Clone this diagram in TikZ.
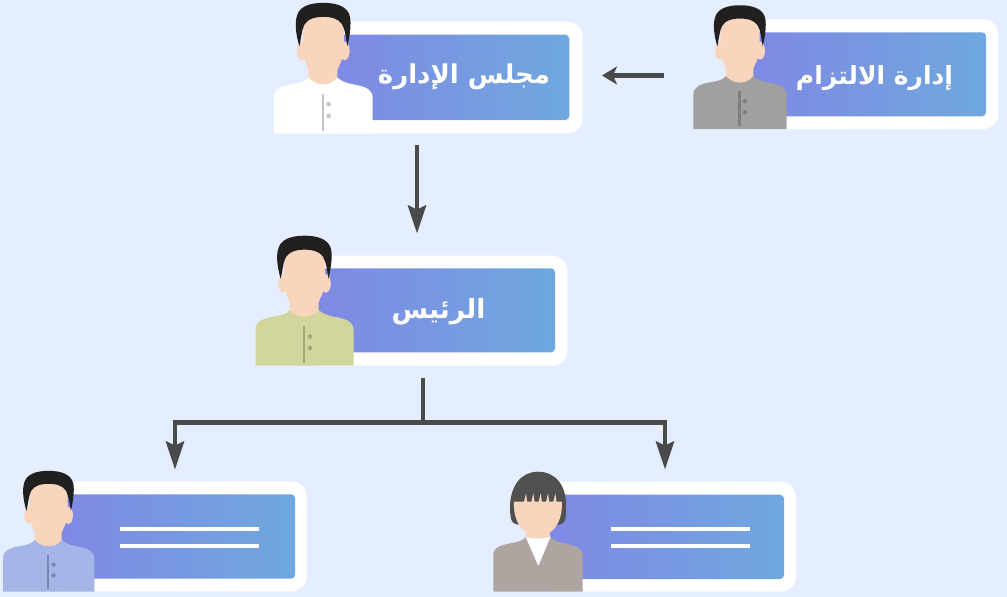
\documentclass[tikz,border=0pt]{standalone}
\usepackage{fontspec}
\usetikzlibrary{arrows.meta,calc}
\newfontfamily\arabicfont[Script=Arabic]{DejaVu Sans}
\TeXXeTstate=1
\definecolor{pagebg}{HTML}{E4EEFE}
\definecolor{cardleft}{HTML}{8088E4}
\definecolor{cardright}{HTML}{6FA8DE}
\definecolor{linkc}{HTML}{4A4A4A}
\definecolor{skin}{HTML}{FAD5BD}
\definecolor{hairc}{HTML}{221F1F}
\definecolor{shirtgrey}{HTML}{A0A0A0}
\definecolor{seamgrey}{HTML}{7F7F7F}
\definecolor{seamwhite}{HTML}{C8C5C2}
\definecolor{shirtgreen}{HTML}{D3D69C}
\definecolor{seamgreen}{HTML}{A3A57A}
\definecolor{shirtblue}{HTML}{A4B5E8}
\definecolor{seamblue}{HTML}{7C86AC}
\definecolor{jacket}{HTML}{AFA5A0}
\definecolor{womanhair}{HTML}{505050}
\tikzset{
  innercard/.style={left color=cardleft,right color=cardright,draw=none,rounded corners=4pt},
  outercard/.style={fill=white,rounded corners=15pt},
  linkline/.style={draw=linkc,line width=4.5pt},
  linkarrow/.style={linkline,-{Stealth[length=#1,width=18pt,inset=4pt]}},
  cardtext/.style={text=white,inner sep=0pt,font=\arabicfont\bfseries\fontsize{#1}{30}\selectfont},
  blankline/.style={draw=white,line width=3.8pt}
}
% #1 left x, #2 bottom y, #3 scale, #4 shirt, #5 seam/button colour
\newcommand{\manfigure}[5]{%
\begin{scope}[shift={(#1,#2)},scale=#3/3]
  \fill[skin] (84,-248) circle[x radius=15,y radius=28];
  \fill[skin] (212,-248) circle[x radius=15,y radius=28];
  \fill[skin] (103,-240) -- (103,-150) .. controls (125,-130) and (170,-130) .. (190,-150) -- (190,-240) -- cycle;
  \fill[#4] (0,0) -- (0,-112) .. controls (2,-135) and (25,-143) .. (55,-148)
     .. controls (78,-152) and (95,-155) .. (103,-168)
     .. controls (125,-140) and (172,-140) .. (190,-168)
     .. controls (205,-153) and (225,-150) .. (250,-145)
     .. controls (280,-138) and (296,-130) .. (296,-105) -- (296,0) -- cycle;
  \fill[skin] (86,-300) .. controls (86,-345) and (115,-358) .. (148,-358)
     .. controls (181,-358) and (210,-345) .. (210,-300)
     .. controls (210,-255) and (208,-225) .. (196,-205) -- (190,-190) -- (103,-190) -- (98,-205)
     .. controls (88,-225) and (86,-255) .. (86,-300) -- cycle;
  \fill[hairc] (76,-262) .. controls (66,-295) and (62,-330) .. (68,-350)
     .. controls (74,-380) and (105,-392) .. (148,-392)
     .. controls (190,-392) and (222,-380) .. (228,-350)
     .. controls (232,-330) and (228,-295) .. (220,-262)
     .. controls (216,-285) and (214,-310) .. (204,-328)
     .. controls (192,-346) and (170,-350) .. (148,-350)
     .. controls (126,-350) and (104,-346) .. (92,-328)
     .. controls (82,-310) and (82,-285) .. (76,-262) -- cycle;
  \fill[#5] (143,-8) rectangle (150,-120);
  \fill[#5] (164,-88) circle[radius=7];
  \fill[#5] (164,-53) circle[radius=7];
\end{scope}}
% #1 left x, #2 bottom y
\newcommand{\womanfigure}[2]{%
\begin{scope}[shift={(#1,#2)},scale=1/3]
  \fill[womanhair] (50,-250) .. controls (52,-200) and (58,-205) .. (90,-198) -- (185,-198)
     .. controls (212,-205) and (218,-200) .. (218,-250)
     .. controls (222,-320) and (185,-360) .. (134,-360)
     .. controls (85,-360) and (50,-320) .. (50,-250) -- cycle;
  \fill[skin] (97,-230) rectangle (171,-155);
  \fill[jacket] (0,0) -- (0,-112) .. controls (2,-135) and (25,-140) .. (55,-146)
     .. controls (75,-150) and (90,-152) .. (97,-165) -- (135,-78) -- (172,-165)
     .. controls (180,-152) and (200,-148) .. (225,-142)
     .. controls (255,-135) and (268,-128) .. (268,-105) -- (268,0) -- cycle;
  \fill[white] (97,-165) .. controls (115,-158) and (155,-158) .. (172,-165) -- (135,-78) -- cycle;
  \fill[skin] (62,-270) -- (206,-270) .. controls (208,-230) and (195,-170) .. (134,-168)
     .. controls (73,-170) and (60,-230) .. (62,-270) -- cycle;
  \foreach \cx in {97,119,141,163,185}
    \fill[skin] (\cx-5,-268) -- (\cx+1,-295) -- (\cx+5,-268) -- cycle;
\end{scope}}
\begin{document}
\begin{tikzpicture}[x=1pt,y=-1pt]
\useasboundingbox (0,0) rectangle (1007,597);
\fill[pagebg] (0,0) rectangle (1007,597);

% --- board card
\fill[outercard] (320,21.7) rectangle (582.7,133.3);
\shade[innercard] (325,34.7) rectangle (569.3,120);
\manfigure{274}{133.5}{1}{white}{seamwhite}
\node[cardtext=26] (board) at (464,77) {\beginR مجلس الإدارة\endR};

% --- compliance card
\fill[outercard] (740,19.3) rectangle (998.3,129);
\shade[innercard] (745,32.3) rectangle (986,116.3);
\manfigure{693.3}{129}{0.947}{shirtgrey}{seamgrey}
\node[cardtext=25] (comp) at (874.5,78) {\beginR إدارة الالتزام\endR};

% --- president card
\fill[outercard] (305,255.7) rectangle (567.3,365.7);
\shade[innercard] (310,268.3) rectangle (555,352.3);
\manfigure{255.5}{365.7}{0.995}{shirtgreen}{seamgreen}
\node[cardtext=26.5] (pres) at (438.5,312) {\beginR الرئيس\endR};

% --- left bottom card
\fill[outercard] (50,481.3) rectangle (306.7,591.3);
\shade[innercard] (55,494.3) rectangle (295,578.7);
\manfigure{3}{591.7}{0.925}{shirtblue}{seamblue}
\draw[blankline] (120,529.3) -- (259,529.3);
\draw[blankline] (120,545.7) -- (259,545.7);

% --- right bottom card
\fill[outercard] (540,482) rectangle (796,591.7);
\shade[innercard] (545,494.7) rectangle (784,579);
\womanfigure{493.3}{591.7}
\draw[blankline] (611,529.3) -- (750,529.3);
\draw[blankline] (611,545.7) -- (750,545.7);

% --- connectors
\coordinate (compout) at (663.5,75.5);
\coordinate (boardin) at (602,75.5);
\coordinate (boardout) at (417,145);
\coordinate (presin) at (417,233.5);
\coordinate (presout) at (423,378);
\coordinate (fork) at (423,422.7);
\coordinate (leftin) at (175,469.5);
\coordinate (rightin) at (665,469.5);
\draw[linkarrow=15pt] (compout) -- (boardin);
\draw[linkarrow=28pt] (boardout) -- (presin);
\draw[linkline] (presout) -- (fork);
\draw[linkarrow=28pt] (fork) -| (leftin);
\draw[linkarrow=28pt] (fork) -| (rightin);
\end{tikzpicture}
\end{document}
